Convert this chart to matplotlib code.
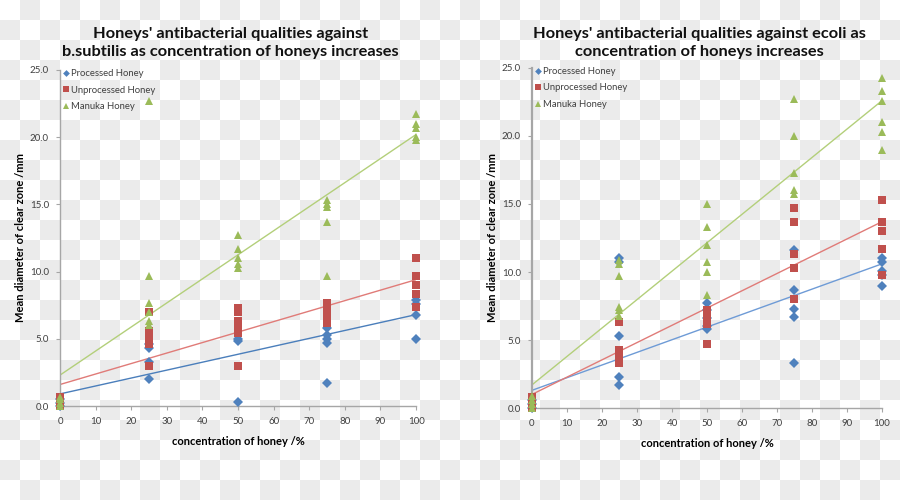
import numpy as np
import matplotlib
matplotlib.use("Agg")
import matplotlib.pyplot as plt

plt.rcParams['font.family'] = ['Lato', 'DejaVu Sans']

concentrations = [0, 25, 50, 75, 100]
series_names = ["Processed Honey", "Unprocessed Honey", "Manuka Honey"]

# b.subtilis (left)
bs_processed = [[0.0, 0.2, 0.5], [4.6, 4.3, 3.3, 2.0], [5.0, 4.8, 0.3],
                [5.8, 5.3, 5.0, 4.7, 1.7], [7.9, 7.6, 6.8, 5.0]]
bs_unprocessed = [[0.0, 0.3, 0.7], [7.0, 5.6, 5.3, 5.0, 4.6, 3.0],
                  [7.3, 7.0, 6.3, 5.8, 5.4, 3.0], [7.7, 7.1, 6.6, 6.2],
                  [11.0, 9.7, 9.0, 8.3, 7.4]]
bs_manuka = [[0.0, 0.2, 0.5, 0.7], [22.7, 9.7, 7.7, 7.0, 6.3, 6.0],
             [12.7, 11.7, 11.0, 10.6, 10.3], [15.3, 15.0, 14.8, 13.7, 9.7],
             [21.7, 21.0, 20.7, 20.0, 19.8]]
# trendline value at 0% and at 100%
bs_trend = {"Processed Honey": (0.9, 6.8), "Unprocessed Honey": (1.6, 9.4),
            "Manuka Honey": (2.3, 20.2)}

# e.coli (right)
ec_processed = [[0.0, 0.3, 0.6], [11.0, 10.7, 5.3, 2.3, 1.7],
                [7.7, 7.2, 6.6, 6.0, 5.8], [11.6, 8.7, 7.3, 6.7, 3.3],
                [11.0, 10.7, 10.1, 9.8, 9.0]]
ec_unprocessed = [[0.0, 0.4, 0.8], [6.3, 4.3, 3.9, 3.6, 3.3],
                  [7.2, 6.8, 6.5, 6.2, 4.7], [14.7, 13.7, 11.3, 10.3, 8.0],
                  [15.3, 13.7, 13.0, 11.7, 9.8]]
ec_manuka = [[0.0, 0.3, 0.6, 0.9], [10.9, 10.6, 9.7, 7.4, 7.2, 6.8],
             [15.0, 13.3, 12.0, 10.7, 10.0, 8.3], [22.7, 20.0, 17.3, 16.0, 15.7],
             [24.3, 23.3, 22.6, 21.0, 20.3, 19.0]]
ec_trend = {"Processed Honey": (1.3, 10.6), "Unprocessed Honey": (1.0, 13.7),
            "Manuka Honey": (1.7, 22.6)}

titles = ["Honeys' antibacterial qualities against\nb.subtilis as concentration of honeys increases",
          "Honeys' antibacterial qualities against ecoli as\nconcentration of honeys increases"]
xlabel = "concentration of honey /%"
ylabel = "Mean diameter of clear zone /mm"
xticks = [0, 10, 20, 30, 40, 50, 60, 70, 80, 90, 100]
yticks = [0, 5, 10, 15, 20, 25]

colors = {"Processed Honey": "#4F81BD", "Unprocessed Honey": "#C0504D", "Manuka Honey": "#9BBB59"}
line_colors_left = {"Processed Honey": "#4A7EBB", "Unprocessed Honey": "#E07B78", "Manuka Honey": "#B3CF7A"}
line_colors_right = {"Processed Honey": "#6E9BD6", "Unprocessed Honey": "#E07B78", "Manuka Honey": "#B3CF7A"}
markers = {"Processed Honey": ("D", 4.6), "Unprocessed Honey": ("s", 6.0), "Manuka Honey": ("^", 6.4)}

fig = plt.figure(figsize=(9, 5), dpi=100)

# checkerboard background
bgax = fig.add_axes([0, 0, 1, 1], zorder=-10)
h, w, cell = 500, 900, 20
rr, cc = np.mgrid[0:h, 0:w]
chk = ((rr // cell + cc // cell) % 2).astype(float)
bg = np.where(chk[..., None] > 0, np.array([0.922, 0.922, 0.922]), np.array([1.0, 1.0, 1.0]))
bgax.imshow(bg, aspect="auto", interpolation="nearest", origin="upper")
bgax.axis("off")

panels = [
    ([0.0667, 0.188, 0.3956, 0.672], [bs_processed, bs_unprocessed, bs_manuka], bs_trend,
     titles[0], 0.256, line_colors_left, 1.0),
    ([0.5911, 0.184, 0.3889, 0.680], [ec_processed, ec_unprocessed, ec_manuka], ec_trend,
     titles[1], 0.777, line_colors_right, 1.6),
]

for rect, data, trend, title, tx, lcols, spw in panels:
    ax = fig.add_axes(rect)
    ax.patch.set_alpha(0)
    for name, vals in zip(series_names, data):
        xs = [c for c, vs in zip(concentrations, vals) for _ in vs]
        ys = [v for vs in vals for v in vs]
        m, ms = markers[name]
        ax.plot(xs, ys, linestyle="none", marker=m, markersize=ms, color=colors[name],
                markeredgewidth=0, label=name, clip_on=False, zorder=3)
    for name in series_names:
        y0, y1 = trend[name]
        ax.plot([0, 100], [y0, y1], color=lcols[name], lw=1.0, zorder=2)
    ax.set_xlim(0, 100)
    ax.set_ylim(0, 25)
    ax.set_xticks(xticks)
    ax.set_yticks(yticks)
    ax.set_yticklabels([f"{v:.1f}" for v in yticks])
    for s in ("top", "right"):
        ax.spines[s].set_visible(False)
    ax.spines["left"].set_color("#A6A6A6")
    ax.spines["left"].set_linewidth(spw)
    ax.spines["bottom"].set_color("#A6A6A6")
    ax.spines["bottom"].set_linewidth(1.0)
    ax.tick_params(axis="both", labelsize=7, colors="#A6A6A6", labelcolor="#404040",
                   length=3, direction="out", pad=5, width=0.8)
    ax.set_xlabel(xlabel, fontsize=8, fontweight="bold", labelpad=7)
    ax.set_ylabel(ylabel, fontsize=8, fontweight="bold", labelpad=3)
    leg = ax.legend(loc="upper left", bbox_to_anchor=(-0.005, 1.02), frameon=False, fontsize=6.8,
                    handlelength=0.5, handletextpad=0.25, labelspacing=0.8, borderaxespad=0.2,
                    markerscale=0.75)
    for t in leg.get_texts():
        t.set_color("#404040")
    fig.text(tx, 0.914, title, ha="center", va="center", fontsize=11.8, fontweight="bold",
             linespacing=1.4, color="#111111")

fig.savefig("out.png", dpi=100)
